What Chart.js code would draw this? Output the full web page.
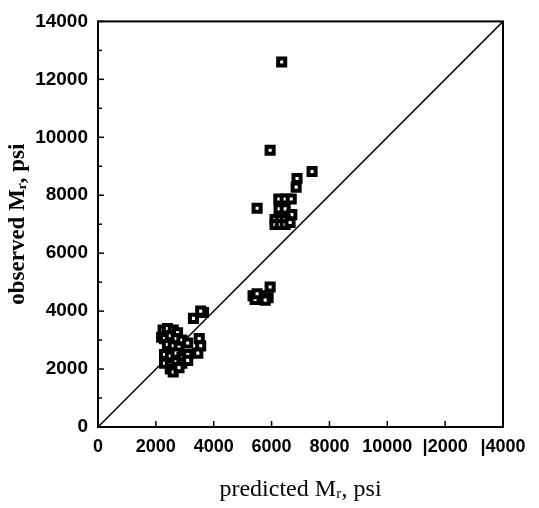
<!DOCTYPE html>
<html>
<head>
<meta charset="utf-8">
<script src="https://cdn.jsdelivr.net/npm/chart.js@4"></script>
<style>
html,body{margin:0;padding:0;background:#fff;}
#wrap{width:539px;height:508px;position:relative;}
</style>
</head>
<body>
<div id="wrap"><canvas id="c" width="539" height="508"></canvas></div>
<script>
const xTicks = [0, 2000, 4000, 6000, 8000, 10000, 12000, 14000];
const xTickLabels = ["0", "2000", "4000", "6000", "8000", "10000", "|2000", "|4000"];
const yTicks = [0, 2000, 4000, 6000, 8000, 10000, 12000, 14000];
const yTickLabels = ["0", "2000", "4000", "6000", "8000", "10000", "12000", "14000"];
const predicted = [
  6350, 5950, 7400, 6880, 6850, 5500,
  6250, 6470, 6680, 6260, 6470, 6700, 6120, 6300, 6470, 6120, 6300, 6470, 6640,
  5360, 5600, 5880, 5950, 5430, 5780, 5500,
  3300, 3650, 3550,
  2250, 2400, 2600, 2750,
  2200, 2300, 2500, 2700, 2900, 3500,
  2400, 2600, 2800, 3100, 3550,
  2300, 2500, 2700, 2900, 3100, 3450,
  2300, 2500, 2700, 2900, 3100,
  2500, 2600, 2800
];
const observed = [
  12600, 9550, 8820, 8580, 8280, 7550,
  7870, 7870, 7870, 7530, 7530, 7330, 7160, 7160, 7160, 6990, 6990, 6990, 7060,
  4530, 4530, 4460, 4830, 4400, 4380, 4600,
  3750, 3950, 4000,
  3350, 3400, 3350, 3250,
  3100, 3050, 3150, 3050, 3000, 3050,
  2850, 2800, 2750, 2900, 2800,
  2500, 2450, 2550, 2400, 2500, 2550,
  2200, 2150, 2250, 2200, 2300,
  2000, 1900, 2050
];
const lineX = [0, 14000];
const lineY = [0, 14000];

const points = predicted.map((x, i) => ({x: x, y: observed[i]}));
const linePts = lineX.map((x, i) => ({x: x, y: lineY[i]}));

const frame = {
  id: 'frame',
  afterDraw(chart) {
    const {ctx, chartArea: a, scales} = chart;
    ctx.save();
    ctx.strokeStyle = '#000';
    ctx.lineWidth = 2;
    ctx.strokeRect(a.left, a.top, a.right - a.left, a.bottom - a.top);
    ctx.lineWidth = 1.5;
    for (let v = 0; v <= 14000; v += 1000) {
      const py = scales.y.getPixelForValue(v);
      const len = (v % 2000 === 0) ? 6 : 4;
      ctx.beginPath(); ctx.moveTo(a.left, py); ctx.lineTo(a.left + len, py); ctx.stroke();
    }
    for (const v of xTicks) {
      const px = scales.x.getPixelForValue(v);
      ctx.beginPath(); ctx.moveTo(px, a.bottom); ctx.lineTo(px, a.bottom - 6); ctx.stroke();
    }
    ctx.restore();
  }
};

new Chart(document.getElementById('c'), {
  type: 'scatter',
  data: {
    datasets: [
      {
        label: 'data',
        data: points,
        pointStyle: 'rect',
        pointRadius: 5,
        pointBorderWidth: 4,
        pointBackgroundColor: '#fff',
        pointBorderColor: '#000'
      },
      {
        type: 'line',
        label: '1:1',
        data: linePts,
        borderColor: '#000',
        borderWidth: 1.5,
        pointRadius: 0,
        fill: false
      }
    ]
  },
  plugins: [frame],
  options: {
    responsive: false,
    animation: false,
    layout: {padding: {top: 13, right: 36, left: 0, bottom: 0}},
    plugins: {legend: {display: false}, tooltip: {enabled: false}},
    scales: {
      x: {
        type: 'linear', min: 0, max: 14000,
        afterBuildTicks(s) { s.ticks = xTicks.map(v => ({value: v})); },
        afterFit(s) { s.height = 81; },
        grid: {display: false, drawTicks: false},
        border: {display: false},
        ticks: {
          color: '#000', padding: 9, maxRotation: 0, autoSkip: false,
          font: {family: 'Liberation Sans', size: 18, weight: 'bold'},
          callback(v) { const i = xTicks.indexOf(v); return i >= 0 ? xTickLabels[i] : ''; }
        },
        title: {
          display: true, text: 'predicted Mᵣ, psi', color: '#000',
          font: {family: 'Liberation Serif', size: 24},
          padding: {top: 8}
        }
      },
      y: {
        type: 'linear', min: 0, max: 14000,
        afterBuildTicks(s) { s.ticks = yTicks.map(v => ({value: v})); },
        afterFit(s) { s.width = 98; },
        grid: {display: false, drawTicks: false},
        border: {display: false},
        ticks: {
          color: '#000', padding: 10, autoSkip: false,
          font: {family: 'Liberation Sans', size: 19, weight: 'bold'},
          callback(v) { const i = yTicks.indexOf(v); return i >= 0 ? yTickLabels[i] : ''; }
        },
        title: {
          display: true, text: 'observed Mᵣ, psi', color: '#000',
          font: {family: 'Liberation Serif', size: 23, weight: 'bold'},
          padding: {bottom: 0}
        }
      }
    }
  }
});
</script>
</body>
</html>
